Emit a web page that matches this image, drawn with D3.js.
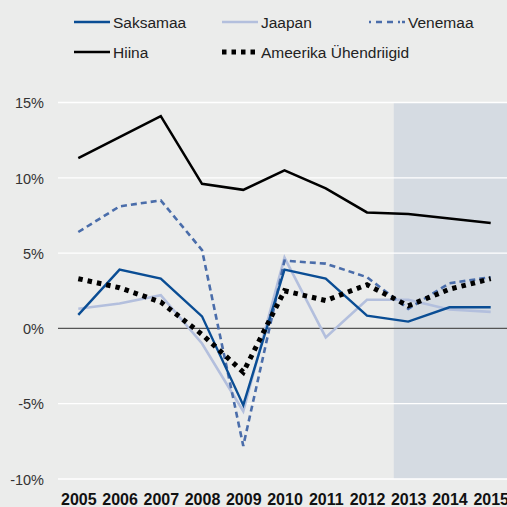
<!DOCTYPE html>
<html>
<head>
<meta charset="utf-8">
<script src="https://cdn.jsdelivr.net/npm/d3@7"></script>
<style>
  body { margin: 0; background: #ebeceb; }
  svg { display: block; font-family: "Liberation Sans", Arial, sans-serif; }
</style>
</head>
<body>
<div class="container"></div>
<script>
// data
const years = ['2005','2006','2007','2008','2009','2010','2011','2012','2013','2014','2015'];
const saksamaa = [0.9, 3.9, 3.3, 0.8, -5.1, 3.9, 3.3, 0.85, 0.45, 1.4, 1.4];
const jaapan   = [1.3, 1.65, 2.2, -1.0, -5.5, 4.7, -0.6, 1.9, 1.9, 1.25, 1.1];
const venemaa  = [6.4, 8.1, 8.5, 5.2, -7.8, 4.5, 4.3, 3.4, 1.3, 3.0, 3.4];
const hiina    = [11.3, 12.7, 14.1, 9.6, 9.2, 10.5, 9.3, 7.7, 7.6, 7.3, 7.0];
const usa      = [3.3, 2.7, 1.75, -0.4, -2.9, 2.5, 1.85, 2.9, 1.5, 2.6, 3.3];
const yTicks = [15, 10, 5, 0, -5, -10];
const forecastStart = 7.65; // shaded area starts this many steps after 2005

const W = 507, H = 507;

const svg = d3.select('.container')
  .append('svg')
  .attr('width', W)
  .attr('height', H);

svg.append('rect').attr('width', W).attr('height', H).attr('fill', '#ebeceb');

const x = d3.scalePoint().domain(years).range([78.3, 490.7]);
const y = d3.scaleLinear().domain([-10, 15]).range([479, 102.5]);

// shaded forecast area
svg.append('rect')
  .attr('x', x(years[0]) + x.step() * forecastStart)
  .attr('y', y(15))
  .attr('width', W)
  .attr('height', y(-10) - y(15))
  .attr('fill', '#d5dbe2');

// grid
svg.append('g')
  .selectAll('line')
  .data(yTicks.filter(d => d !== 0))
  .join('line')
  .attr('x1', 58).attr('x2', W)
  .attr('y1', d => y(d)).attr('y2', d => y(d))
  .attr('stroke', '#fff')
  .attr('stroke-width', 1.3);

// y axis labels
const yAxis = d3.axisLeft(y).tickValues(yTicks).tickSize(0).tickPadding(0)
  .tickFormat(d => d + '%');
svg.append('g')
  .attr('transform', 'translate(44,0)')
  .call(yAxis)
  .call(g => g.select('.domain').remove())
  .call(g => g.selectAll('text')
    .attr('font-size', 14.5)
    .attr('font-family', '"Liberation Sans", Arial, sans-serif')
    .attr('fill', '#333')
    .attr('dy', '0.36em'));

// x axis labels
const xAxis = d3.axisBottom(x).tickSize(0).tickPadding(0);
svg.append('g')
  .attr('transform', 'translate(0,493)')
  .call(xAxis)
  .call(g => g.select('.domain').remove())
  .call(g => g.selectAll('text')
    .attr('font-size', 16)
    .attr('font-weight', 'bold')
    .attr('font-family', '"Liberation Sans", Arial, sans-serif')
    .attr('fill', '#111')
    .attr('dy', '0.75em'));

// zero line
svg.append('line')
  .attr('x1', 58).attr('x2', W)
  .attr('y1', y(0)).attr('y2', y(0))
  .attr('stroke', '#555')
  .attr('stroke-width', 1.4);

const series = [
  { name: 'Jaapan', values: jaapan, color: '#b3bfdd', width: 2.6, dash: null },
  { name: 'Venemaa', values: venemaa, color: '#4a6daa', width: 2.6, dash: '6,4' },
  { name: 'Saksamaa', values: saksamaa, color: '#0a4d94', width: 2.4, dash: null },
  { name: 'Hiina', values: hiina, color: '#000', width: 2.5, dash: null },
  { name: 'Ameerika Ühendriigid', values: usa, color: '#000', width: 5, dash: '4.5,5' }
];

const line = d3.line()
  .x((d, i) => x(years[i]))
  .y(d => y(d));

svg.append('g')
  .selectAll('path')
  .data(series)
  .join('path')
  .attr('d', d => line(d.values))
  .attr('fill', 'none')
  .attr('stroke', d => d.color)
  .attr('stroke-width', d => d.width)
  .attr('stroke-dasharray', d => d.dash);

// legend
const legendItems = [
  { s: series[2], x: 74, y: 22 },
  { s: series[0], x: 222, y: 22 },
  { s: series[1], x: 369, y: 22 },
  { s: series[3], x: 74, y: 52 },
  { s: series[4], x: 222, y: 52 }
];

const lg = svg.append('g')
  .selectAll('g')
  .data(legendItems)
  .join('g')
  .attr('transform', d => `translate(${d.x},${d.y})`);

lg.append('line')
  .attr('x1', 0).attr('x2', 36)
  .attr('stroke', d => d.s.color)
  .attr('stroke-width', d => d.s.width)
  .attr('stroke-dasharray', d => d.s.name === 'Venemaa' ? '2,5,6,5,6,5,2' : d.s.dash);

lg.append('text')
  .attr('x', 39)
  .attr('dy', '0.36em')
  .attr('font-size', 15.5)
  .attr('fill', '#222')
  .text(d => d.s.name);
</script>
</body>
</html>
